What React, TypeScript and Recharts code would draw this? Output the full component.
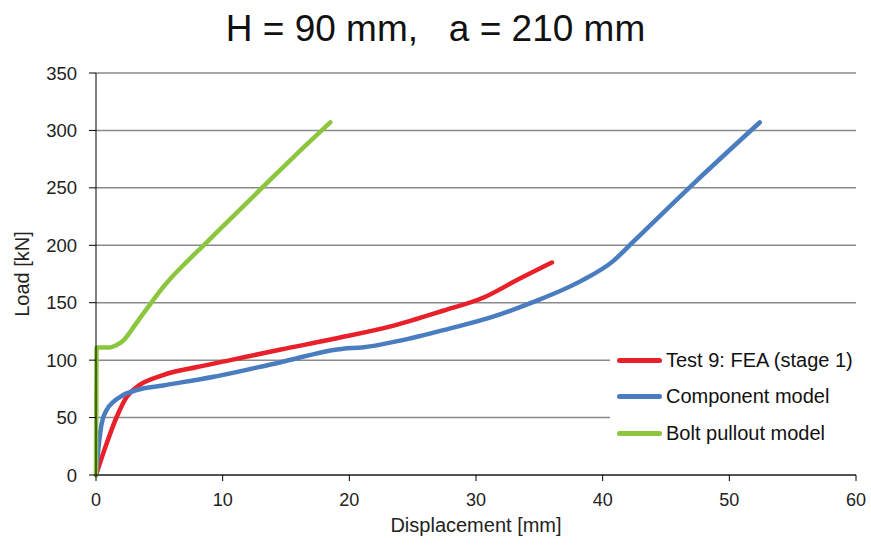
import { LineChart, Line, XAxis, YAxis, CartesianGrid, Legend } from "recharts";

// Test 9: FEA (stage 1)  [displacement mm, load kN]
const feaX = [0, 0.84, 1.63, 2.42, 3.2, 5.3, 8, 10.6, 14.5, 19, 23.5, 27.4, 30.6, 33.2, 36];
const feaY = [0, 27.5, 50.5, 68, 76.5, 87, 94, 100, 109, 119, 130, 143, 154.5, 169.5, 185];

// Component model
const compX = [0, 0.18, 0.45, 0.84, 1.37, 2.15, 3.2, 5.3, 9.3, 14.5, 19.5, 21, 24, 27.9, 31.1, 34.5, 38.3, 40.8, 42.4, 47.2, 52.4];
const compY = [0, 22, 45, 56.5, 63.7, 69.6, 74, 78, 85.5, 98, 110, 111, 117, 127.5, 137, 150.5, 169, 186, 203, 254, 307];

// Bolt pullout model
const boltX = [0, 0.05, 0.5, 1.1, 1.6, 2.15, 2.6, 2.95, 3.6, 4.3, 5, 5.8, 7.2, 8.5, 10.8, 13.2, 15.8, 18.5];
const boltY = [0, 111, 111, 111, 113, 117, 123, 128.5, 138.5, 149, 159.5, 170, 186, 200, 225, 251, 279, 307];

const xTicks = [0, 10, 20, 30, 40, 50, 60];
const yTicks = [0, 50, 100, 150, 200, 250, 300, 350];

const toPoints = (xs: number[], ys: number[]) => xs.map((x, i) => ({ x, y: ys[i] }));

const series = [
  { name: "Test 9: FEA (stage 1)", color: "#E8202A", data: toPoints(feaX, feaY) },
  { name: "Component model", color: "#4A7DC0", data: toPoints(compX, compY) },
  { name: "Bolt pullout model", color: "#8CC63F", data: toPoints(boltX, boltY) },
];

const font = "'Liberation Sans', Arial, sans-serif";

function LegendBox() {
  return (
    <div style={{ background: "#fff", padding: "6px 0 6px 7px", fontFamily: font }}>
      {series.map((s) => (
        <div key={s.name} style={{ display: "flex", alignItems: "center", height: 36.5 }}>
          <div style={{ width: 45, height: 5, borderRadius: 3, background: s.color, marginRight: 4 }} />
          <span style={{ fontSize: 20, color: "#111", whiteSpace: "nowrap" }}>{s.name}</span>
        </div>
      ))}
    </div>
  );
}

export default function App() {
  return (
    <div style={{ position: "absolute", left: 0, top: 0, width: 871, height: 545, background: "#fff", fontFamily: font }}>
      <div style={{ position: "absolute", left: 0, width: 871, top: 8, textAlign: "center", fontSize: 37, color: "#111", whiteSpace: "pre" }}>
        {"H = 90 mm,   a = 210 mm"}
      </div>
      <LineChart width={871} height={545} margin={{ top: 73, right: 15, bottom: 10, left: 0 }}>
        <CartesianGrid horizontal vertical={false} stroke="#8a8a8a" strokeWidth={1.5} />
        <XAxis
          type="number"
          dataKey="x"
          domain={[0, 60]}
          ticks={xTicks}
          height={60}
          tickSize={6}
          tickMargin={12}
          stroke="#000"
          tick={{ fill: "#222", fontSize: 18, fontFamily: font }}
          label={{ value: "Displacement [mm]", position: "insideBottom", offset: 3, fill: "#222", fontSize: 20, fontFamily: font }}
        />
        <YAxis
          type="number"
          domain={[0, 350]}
          ticks={yTicks}
          width={96}
          tickSize={7}
          tickMargin={12}
          stroke="#000"
          tick={{ fill: "#222", fontSize: 18.5, fontFamily: font }}
          label={{ value: "Load [kN]", angle: -90, position: "center", dx: -26, fill: "#222", fontSize: 20, fontFamily: font }}
        />
        <Legend
          layout="vertical"
          align="center"
          verticalAlign="middle"
          content={<LegendBox />}
          wrapperStyle={{ left: 610, top: 336, width: 255 }}
        />
        {series.map((s) => (
          <Line
            key={s.name}
            data={s.data}
            dataKey="y"
            name={s.name}
            type="monotone"
            stroke={s.color}
            strokeWidth={4.5}
            strokeLinejoin="round"
            strokeLinecap="round"
            dot={false}
            isAnimationActive={false}
          />
        ))}
      </LineChart>
    </div>
  );
}
